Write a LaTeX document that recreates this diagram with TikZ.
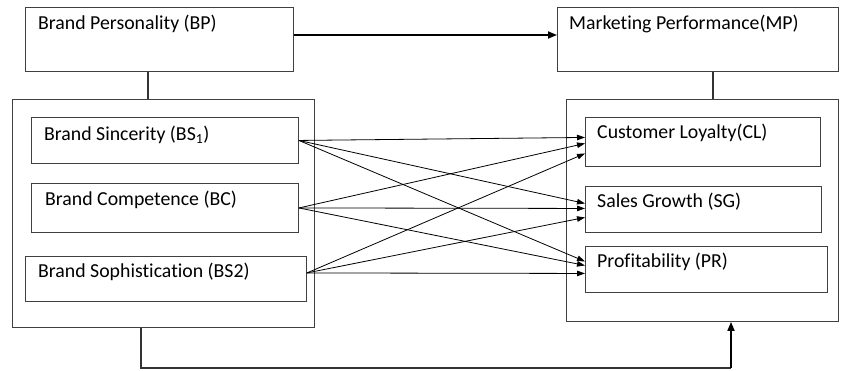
\documentclass[tikz,border=0pt]{standalone}
\usepackage{fontspec}
\setmainfont[Ligatures=NoCommon]{Carlito}
\usetikzlibrary{arrows.meta,calc}
\begin{document}
\begin{tikzpicture}[x=1pt,y=-1pt,
  box/.style={draw=black!75, line width=0.9pt, rectangle, inner sep=0pt, anchor=north west},
  lbl/.style={anchor=west, inner sep=0pt, font=\fontsize{19.8}{22}\selectfont, text=black},
  link/.style={draw=black, line width=0.8pt, -{Triangle[length=8pt,width=5.5pt]}},
  thick link/.style={draw=black, line width=1.7pt, -{Triangle[length=9pt,width=7pt]}},
  plain/.style={draw=black!80, line width=1.1pt}]
\useasboundingbox (0,0) rectangle (848,371);
% top boxes
\node[box, minimum width=268pt, minimum height=64pt] (bp) at (25,7) {};
\node[lbl] (bpl) at (38,24) {Brand Personality (BP)};
\node[box, minimum width=281pt, minimum height=64pt] (mp) at (557,7) {};
\node[lbl] (mpl) at (569,24) {Marketing Performance(MP)};
% containers
\node[box, minimum width=302pt, minimum height=228pt] (lc) at (12,99) {};
\node[box, minimum width=272pt, minimum height=222pt] (rc) at (566,99) {};
% inner left
\node[box, minimum width=267pt, minimum height=46pt] (bs1) at (31,117) {};
\node[lbl] (bs1l) at (44,135) {Brand Sincerity (BS\textsubscript{1})};
\node[box, minimum width=267pt, minimum height=49pt] (bc) at (31,183) {};
\node[lbl] (bcl) at (45,200) {Brand Competence (BC)};
\node[box, minimum width=281pt, minimum height=45pt] (bs2) at (25,256) {};
\node[lbl] (bs2l) at (38,272) {Brand Sophistication (BS2)};
% inner right
\node[box, minimum width=235pt, minimum height=49pt] (cl) at (585,117) {};
\node[lbl] (cll) at (597,133) {Customer Loyalty(CL)};
\node[box, minimum width=236pt, minimum height=46pt] (sg) at (585,186) {};
\node[lbl] (sgl) at (597,202) {Sales Growth (SG)};
\node[box, minimum width=242pt, minimum height=46pt] (pr) at (585,246) {};
\node[lbl] (prl) at (597,262) {Profitability (PR)};
% connectors between top and containers
\draw[plain] (bp.south -| 148,0) -- (lc.north -| 148,0);
\draw[plain] (mp.south -| 713,0) -- (rc.north -| 713,0);
\draw[thick link] (bp.east |- 0,35) -- (mp.west |- 0,35);
% sources
\coordinate (s1) at (bs1.east);
\coordinate (s2) at (bc.east);
\coordinate (s3) at ($(bs2.east)+(0,-6)$);
% targets
\coordinate (c1) at ($(cl.west)+(0,-4.5)$);
\coordinate (c2) at ($(cl.west)+(0,1.5)$);
\coordinate (c3) at ($(cl.west)+(0,11.5)$);
\coordinate (g1) at ($(sg.west)+(0,-6)$);
\coordinate (g2) at ($(sg.west)+(0,-1)$);
\coordinate (g3) at ($(sg.west)+(0,8)$);
\coordinate (p1) at ($(pr.west)+(0,-8)$);
\coordinate (p2) at ($(pr.west)+(0,-4)$);
\coordinate (p3) at ($(pr.west)+(0,4)$);
\draw[link] (s1) -- (c1);
\draw[link] (s1) -- (g1);
\draw[link] (s1) -- (p1);
\draw[link] (s2) -- (c2);
\draw[link] (s2) -- (g2);
\draw[link] (s2) -- (p2);
\draw[link] (s3) -- (c3);
\draw[link] (s3) -- (g3);
\draw[link] (s3) -- (p3);
% bottom connector
\coordinate (b1) at (141,368);
\coordinate (b2) at (731,368);
\draw[plain] (lc.south -| b1) -- (b1) -- (b2);
\draw[thick link] (b2) -- (rc.south -| b2);
\end{tikzpicture}
\end{document}
